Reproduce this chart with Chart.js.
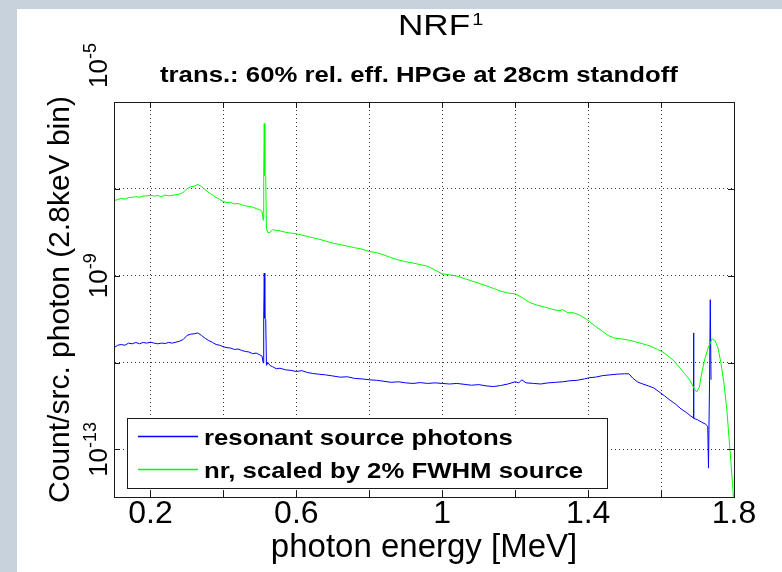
<!DOCTYPE html>
<html>
<head>
<meta charset="utf-8">
<title>NRF spectrum</title>
<script src="https://cdn.jsdelivr.net/npm/chart.js@4.4.1/dist/chart.umd.min.js"></script>
<style>
  html, body { margin: 0; padding: 0; }
  body { width: 782px; height: 572px; background: #c8d2dc; position: relative; overflow: hidden; }
  #sheet { position: absolute; left: 17px; top: 9px; right: 0; bottom: 0; background: #fff; }
  #plot { position: absolute; left: 0; top: 0; }
</style>
</head>
<body>
<div id="sheet"></div>
<canvas id="plot" width="782" height="572"></canvas>
<script>
// nr source, scaled by 2% FWHM (green) - energy in MeV, counts per source photon
const greenE = [
  0.100, 0.110, 0.120, 0.130, 0.140, 0.150, 0.160, 0.170, 0.180, 0.190,
  0.200, 0.210, 0.220, 0.230, 0.240, 0.250, 0.260, 0.270, 0.280, 0.290,
  0.300, 0.310, 0.320, 0.330, 0.340, 0.350, 0.360, 0.370, 0.380, 0.390,
  0.400, 0.410, 0.420, 0.430, 0.440, 0.450, 0.460, 0.470, 0.480, 0.490,
  0.500, 0.506, 0.509, 0.5105, 0.512, 0.5135, 0.516, 0.518, 0.522, 0.528,
  0.535, 0.545, 0.555, 0.570, 0.585, 0.600, 0.615, 0.630, 0.645, 0.660,
  0.680, 0.700, 0.720, 0.740, 0.760, 0.780, 0.800, 0.820, 0.840, 0.860,
  0.880, 0.900, 0.920, 0.940, 0.960, 0.980, 1.000, 1.020, 1.040, 1.060,
  1.080, 1.100, 1.120, 1.140, 1.160, 1.180, 1.200, 1.220, 1.240, 1.260,
  1.280, 1.300, 1.320, 1.330, 1.345, 1.360, 1.380, 1.395, 1.405, 1.420,
  1.440, 1.455, 1.470, 1.490, 1.510, 1.530, 1.550, 1.570, 1.590, 1.605,
  1.620, 1.635, 1.650, 1.665, 1.680, 1.692, 1.698, 1.705, 1.712, 1.720,
  1.730, 1.740, 1.748, 1.756, 1.764, 1.772, 1.780, 1.786, 1.792, 1.797,
  1.800
];
const greenY = [
  5.3e-8, 5.7e-8, 6.0e-8, 5.8e-8, 6.3e-8, 6.4e-8, 6.6e-8, 6.4e-8, 6.8e-8, 6.9e-8,
  7.1e-8, 6.8e-8, 7.0e-8, 6.6e-8, 7.2e-8, 6.9e-8, 7.1e-8, 7.3e-8, 7.6e-8, 8.3e-8,
  1.0e-7, 1.12e-7, 1.15e-7, 1.26e-7, 1.13e-7, 9.5e-8, 8.2e-8, 7.2e-8, 6.3e-8, 5.7e-8,
  5.1e-8, 4.8e-8, 4.9e-8, 4.5e-8, 4.6e-8, 4.3e-8, 4.1e-8, 3.9e-8, 3.8e-8, 3.5e-8,
  3.3e-8, 3.0e-8, 1.9e-8, 2.3e-7, 3.2e-6, 2.0e-7, 1.9e-7, 1.2e-8, 9.8e-9, 1.0e-8,
  1.15e-8, 1.1e-8, 1.08e-8, 1.0e-8, 9.6e-9, 9.2e-9, 8.6e-9, 8.0e-9, 7.5e-9, 7.0e-9,
  6.3e-9, 5.6e-9, 5.2e-9, 4.8e-9, 4.4e-9, 4.1e-9, 3.6e-9, 3.4e-9, 3.0e-9, 2.6e-9,
  2.3e-9, 2.1e-9, 1.95e-9, 1.8e-9, 1.65e-9, 1.35e-9, 1.1e-9, 1.05e-9, 9.8e-10, 8.6e-10,
  7.6e-10, 6.7e-10, 5.9e-10, 5.1e-10, 4.4e-10, 4.0e-10, 3.8e-10, 3.1e-10, 2.4e-10, 2.1e-10,
  1.9e-10, 1.7e-10, 1.55e-10, 1.65e-10, 1.4e-10, 1.4e-10, 1.2e-10, 1.0e-10, 8.6e-11, 6.8e-11,
  5.2e-11, 4.2e-11, 3.7e-11, 3.5e-11, 3.3e-11, 3.0e-11, 2.7e-11, 2.4e-11, 2.0e-11, 1.75e-11,
  1.4e-11, 1.1e-11, 7.8e-12, 5.5e-12, 3.8e-12, 2.4e-12, 2.1e-12, 2.7e-12, 6.0e-12, 1.2e-11,
  2.3e-11, 3.5e-11, 3.2e-11, 2.2e-11, 1.0e-11, 3.5e-12, 9.0e-13, 2.0e-13, 4.5e-14, 1.2e-14,
  5.0e-15
];

// resonant source photons (blue)
const blueE = [
  0.100, 0.110, 0.120, 0.130, 0.140, 0.150, 0.160, 0.170, 0.180, 0.190,
  0.200, 0.210, 0.220, 0.230, 0.240, 0.250, 0.260, 0.270, 0.280, 0.290,
  0.300, 0.310, 0.320, 0.330, 0.340, 0.350, 0.360, 0.370, 0.380, 0.390,
  0.400, 0.410, 0.420, 0.430, 0.440, 0.450, 0.460, 0.470, 0.480, 0.490,
  0.500, 0.506, 0.509, 0.5105, 0.512, 0.5135, 0.516, 0.518, 0.522, 0.528,
  0.535, 0.545, 0.555, 0.570, 0.585, 0.600, 0.615, 0.630, 0.645, 0.660,
  0.680, 0.700, 0.720, 0.740, 0.760, 0.780, 0.800, 0.820, 0.840, 0.860,
  0.880, 0.900, 0.920, 0.940, 0.960, 0.980, 1.000, 1.020, 1.040, 1.060,
  1.080, 1.100, 1.120, 1.140, 1.160, 1.180, 1.200, 1.210, 1.218, 1.230,
  1.250, 1.270, 1.290, 1.310, 1.330, 1.350, 1.370, 1.390, 1.405, 1.420,
  1.440, 1.460, 1.480, 1.500, 1.512, 1.522, 1.535, 1.550, 1.565, 1.580,
  1.595, 1.610, 1.625, 1.640, 1.655, 1.670, 1.682, 1.688, 1.689, 1.690,
  1.700, 1.712, 1.722, 1.728, 1.730, 1.733, 1.735, 1.737
];
const blueY = [
  2.2e-11, 2.5e-11, 2.6e-11, 2.5e-11, 2.8e-11, 2.7e-11, 2.9e-11, 2.7e-11, 2.9e-11, 2.8e-11,
  2.95e-11, 2.8e-11, 2.7e-11, 2.8e-11, 2.75e-11, 2.9e-11, 2.8e-11, 2.95e-11, 3.1e-11, 3.4e-11,
  4.2e-11, 4.5e-11, 4.6e-11, 4.8e-11, 4.2e-11, 3.6e-11, 3.2e-11, 2.9e-11, 2.6e-11, 2.5e-11,
  2.3e-11, 2.2e-11, 2.15e-11, 2.0e-11, 2.05e-11, 1.9e-11, 1.8e-11, 1.75e-11, 1.6e-11, 1.65e-11,
  1.5e-11, 1.4e-11, 9.8e-12, 1.05e-10, 1.15e-9, 1.05e-10, 1.0e-10, 8.6e-12, 1.0e-11, 8.5e-12,
  8.0e-12, 7.2e-12, 7.4e-12, 6.8e-12, 6.6e-12, 6.2e-12, 6.5e-12, 5.9e-12, 5.6e-12, 5.4e-12,
  5.2e-12, 4.9e-12, 4.6e-12, 4.7e-12, 4.3e-12, 4.2e-12, 4.0e-12, 3.9e-12, 3.7e-12, 3.5e-12,
  3.6e-12, 3.4e-12, 3.3e-12, 3.45e-12, 3.3e-12, 3.4e-12, 3.3e-12, 3.2e-12, 3.3e-12, 3.15e-12,
  3.0e-12, 3.1e-12, 2.9e-12, 2.8e-12, 2.95e-12, 3.2e-12, 3.6e-12, 3.4e-12, 4.0e-12, 3.4e-12,
  3.3e-12, 3.2e-12, 3.4e-12, 3.5e-12, 3.6e-12, 3.8e-12, 3.9e-12, 4.2e-12, 4.5e-12, 4.6e-12,
  5.0e-12, 5.2e-12, 5.4e-12, 5.5e-12, 5.5e-12, 4.4e-12, 3.6e-12, 3.2e-12, 2.9e-12, 2.6e-12,
  2.1e-12, 1.7e-12, 1.35e-12, 1.1e-12, 8.5e-13, 7.0e-13, 5.8e-13, 5.4e-13, 4.8e-11, 5.2e-13,
  4.8e-13, 4.2e-13, 3.8e-13, 3.4e-13, 3.7e-14, 4.0e-12, 2.8e-10, 4.0e-12
];

// axes
const xGrid = [0.2, 0.4, 0.6, 0.8, 1.0, 1.2, 1.4, 1.6, 1.8];
const xTickLabels = ['0.2', '', '0.6', '', '1', '', '1.4', '', '1.8'];
const yGrid = [1e-13, 1e-11, 1e-9, 1e-7, 1e-5];
const yTickExp = ['-13', '', '-9', '', '-5'];

const legendLabels = ['resonant source photons', 'nr, scaled by 2% FWHM source'];
const legendColors = ['#0000ff', '#00ff00'];

const FONT = '"Liberation Sans", Arial, Helvetica, sans-serif';
const SX = 1.17; // the source figure is stretched sideways a little

function wideText(ctx, txt, x, y, font) {
  ctx.save();
  ctx.font = font;
  ctx.translate(x, y);
  ctx.scale(SX, 1);
  ctx.textAlign = 'left';
  ctx.textBaseline = 'alphabetic';
  ctx.fillText(txt, 0, 0);
  const w = ctx.measureText(txt).width * SX;
  ctx.restore();
  return w;
}

const pts = (xs, ys) => xs.map((x, i) => ({ x, y: ys[i] }));

// box, inner ticks, titles, rotated log labels, legend
const overlay = {
  id: 'overlay',
  afterDraw(chart) {
    const { ctx, chartArea: a, scales } = chart;
    const x = scales.x, y = scales.y;
    ctx.save();

    ctx.strokeStyle = '#1a1a1a';
    ctx.lineWidth = 1;
    ctx.strokeRect(a.left + 0.5, a.top + 0.5, a.right - a.left, a.bottom - a.top);
    ctx.beginPath();
    xGrid.forEach((v) => {
      const px = Math.round(x.getPixelForValue(v)) + 0.5;
      ctx.moveTo(px, a.bottom); ctx.lineTo(px, a.bottom - 6);
      ctx.moveTo(px, a.top); ctx.lineTo(px, a.top + 6);
    });
    yGrid.forEach((v) => {
      const py = Math.round(y.getPixelForValue(v)) + 0.5;
      ctx.moveTo(a.left, py); ctx.lineTo(a.left + 6, py);
      ctx.moveTo(a.right, py); ctx.lineTo(a.right - 6, py);
    });
    ctx.stroke();

    // title + subtitle
    ctx.fillStyle = '#000';
    const tw = wideText(ctx, 'NRF', 398, 35, '30px ' + FONT);
    wideText(ctx, '1', 398 + tw + 2, 25, '17px ' + FONT);
    wideText(ctx, 'trans.: 60% rel. eff. HPGe at 28cm standoff', 160, 82, 'bold 22px ' + FONT);

    // y tick labels, rotated like the original
    const baseFont = '26px ' + FONT, expFont = '18px ' + FONT;
    yGrid.forEach((v, i) => {
      const exp = yTickExp[i];
      if (!exp) return;
      ctx.font = baseFont;
      const wb = ctx.measureText('10').width;
      ctx.font = expFont;
      const w = wb + ctx.measureText(exp).width;
      let cy = y.getPixelForValue(v);
      if (i === yGrid.length - 1) cy = a.top - 14 - w / 2; // top label sits above the frame
      ctx.save();
      ctx.translate(107, cy);
      ctx.rotate(-Math.PI / 2);
      ctx.textAlign = 'left';
      ctx.textBaseline = 'alphabetic';
      ctx.font = baseFont;
      ctx.fillText('10', -w / 2, 0);
      ctx.font = expFont;
      ctx.fillText(exp, -w / 2 + wb, -11);
      ctx.restore();
    });

    // legend box in the lower left of the axes
    const lx = a.left + 13, lb = a.bottom - 9, lw = 480, lh = 70;
    const ly = lb - lh;
    ctx.fillStyle = '#fff';
    ctx.fillRect(lx, ly, lw, lh);
    ctx.strokeStyle = '#1a1a1a';
    ctx.strokeRect(lx + 0.5, ly + 0.5, lw, lh);
    legendLabels.forEach((lab, i) => {
      const cy = ly + 18.5 + i * 33;
      ctx.strokeStyle = legendColors[i];
      ctx.lineWidth = 1.3;
      ctx.beginPath();
      ctx.moveTo(lx + 11, cy); ctx.lineTo(lx + 71, cy);
      ctx.stroke();
      ctx.fillStyle = '#000';
      wideText(ctx, lab, lx + 77, cy + 8, 'bold 22px ' + FONT);
    });

    ctx.restore();
  },
};

Chart.defaults.font.family = FONT;
Chart.defaults.color = '#000';

const gridOpts = { display: true, color: '#333', lineWidth: 1, drawTicks: false };
const borderOpts = { display: true, color: '#1a1a1a', width: 1, dash: [1, 3] };

new Chart(document.getElementById('plot'), {
  type: 'line',
  data: {
    datasets: [
      { label: legendLabels[1], data: pts(greenE, greenY), borderColor: legendColors[1],
        borderWidth: 1, pointRadius: 0, tension: 0, fill: false },
      { label: legendLabels[0], data: pts(blueE, blueY), borderColor: legendColors[0],
        borderWidth: 1, pointRadius: 0, tension: 0, fill: false },
    ],
  },
  options: {
    responsive: false,
    animation: false,
    events: [],
    layout: { padding: { left: 17, top: 102, right: 48, bottom: 0 } },
    plugins: { legend: { display: false }, title: { display: false }, tooltip: { enabled: false } },
    scales: {
      x: {
        type: 'linear', min: 0.1, max: 1.8,
        grid: gridOpts, border: borderOpts,
        afterBuildTicks: (s) => { s.ticks = xGrid.map((v) => ({ value: v })); },
        afterFit: (s) => { s.height = 75; },
        ticks: {
          autoSkip: false, maxRotation: 0, minRotation: 0, padding: -2,
          font: { size: 32 }, color: '#000',
          callback: (v, i) => xTickLabels[i],
        },
        title: { display: true, text: 'photon energy [MeV]', font: { size: 33 }, color: '#000',
          padding: { top: 0, bottom: 4 } },
      },
      y: {
        type: 'logarithmic', min: 8e-15, max: 1e-5,
        grid: gridOpts, border: borderOpts,
        afterBuildTicks: (s) => { s.ticks = yGrid.map((v) => ({ value: v })); },
        afterFit: (s) => { s.width = 97; },
        ticks: { display: false },
        title: { display: true, text: 'Count/src. photon (2.8keV bin)', font: { size: 30 }, color: '#000',
          padding: { top: 26, bottom: 0 } },
      },
    },
  },
  plugins: [overlay],
});
</script>
</body>
</html>
